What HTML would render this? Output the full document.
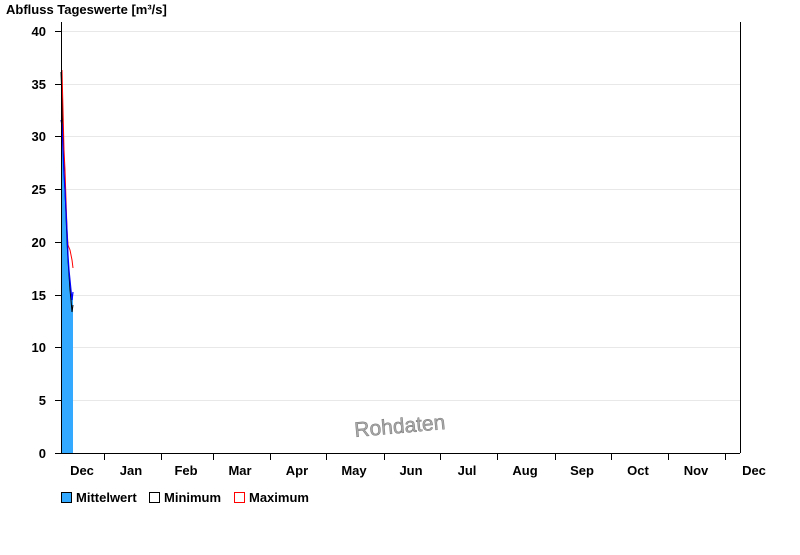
<!DOCTYPE html><html><head><style>body{margin:0;background:#fff}svg{font-family:"Liberation Sans",sans-serif;font-weight:bold;font-size:13px}</style></head><body>
<svg width="800" height="550" viewBox="0 0 800 550">
<rect width="800" height="550" fill="#fff"/>
<text x="6" y="14" font-size="13">Abfluss Tageswerte [m³/s]</text>
<g stroke="#e8e8e8" stroke-width="1">
<line x1="61" x2="740" y1="31.5" y2="31.5"/><line x1="61" x2="740" y1="84.5" y2="84.5"/><line x1="61" x2="740" y1="136.5" y2="136.5"/><line x1="61" x2="740" y1="189.5" y2="189.5"/><line x1="61" x2="740" y1="242.5" y2="242.5"/><line x1="61" x2="740" y1="295.5" y2="295.5"/><line x1="61" x2="740" y1="347.5" y2="347.5"/><line x1="61" x2="740" y1="400.5" y2="400.5"/>
</g>
<path d="M61,453 L61,120 L62,125 L63,150 L64,175 L65,190 L66,210 L67,230 L68,255 L69,270 L70,280 L71,290 L72,300 L73,292 L73,453 Z" fill="#33aaff"/>
<polyline points="61,72 62,100 63,140 64,170 65,190 66,215 67,240 68,260 69,275 70,290 71,300 72,312 73,305" fill="none" stroke="#000" stroke-width="1"/>
<polyline points="62,70 63,110 64,150 65,170 66,200 67,230 68,245 70,250 72,260 73,268" fill="none" stroke="#f00" stroke-width="1"/>
<polyline points="61,120 62,125 63,150 64,175 65,190 66,210 67,230 68,255 69,270 70,280 71,290 72,300 73,292" fill="none" stroke="#00f" stroke-width="1.2"/>
<g stroke="#000" stroke-width="1">
<line x1="61.5" y1="22" x2="61.5" y2="453"/><line x1="740.5" y1="22" x2="740.5" y2="453"/><line x1="55" y1="453.5" x2="740" y2="453.5"/>
<line x1="55" x2="61" y1="31.5" y2="31.5"/><line x1="55" x2="61" y1="84.5" y2="84.5"/><line x1="55" x2="61" y1="136.5" y2="136.5"/><line x1="55" x2="61" y1="189.5" y2="189.5"/><line x1="55" x2="61" y1="242.5" y2="242.5"/><line x1="55" x2="61" y1="295.5" y2="295.5"/><line x1="55" x2="61" y1="347.5" y2="347.5"/><line x1="55" x2="61" y1="400.5" y2="400.5"/>
<g>
<line x1="104.5" x2="104.5" y1="453" y2="460"/><line x1="161.5" x2="161.5" y1="453" y2="460"/><line x1="213.5" x2="213.5" y1="453" y2="460"/><line x1="270.5" x2="270.5" y1="453" y2="460"/><line x1="326.5" x2="326.5" y1="453" y2="460"/><line x1="384.5" x2="384.5" y1="453" y2="460"/><line x1="440.5" x2="440.5" y1="453" y2="460"/><line x1="497.5" x2="497.5" y1="453" y2="460"/><line x1="555.5" x2="555.5" y1="453" y2="460"/><line x1="611.5" x2="611.5" y1="453" y2="460"/><line x1="668.5" x2="668.5" y1="453" y2="460"/><line x1="725.5" x2="725.5" y1="453" y2="460"/>
</g></g>
<g text-anchor="end">
<text x="46" y="36">40</text><text x="46" y="89">35</text><text x="46" y="141">30</text><text x="46" y="194">25</text><text x="46" y="247">20</text><text x="46" y="300">15</text><text x="46" y="352">10</text><text x="46" y="405">5</text><text x="46" y="458">0</text>
</g>
<g text-anchor="middle">
<text x="82" y="475">Dec</text><text x="131" y="475">Jan</text><text x="186" y="475">Feb</text><text x="240" y="475">Mar</text><text x="297" y="475">Apr</text><text x="354" y="475">May</text><text x="411" y="475">Jun</text><text x="467" y="475">Jul</text><text x="525" y="475">Aug</text><text x="582" y="475">Sep</text><text x="638" y="475">Oct</text><text x="696" y="475">Nov</text><text x="754" y="475">Dec</text>
</g>
<text x="400" y="433" text-anchor="middle" font-weight="normal" font-size="21" fill="#aaa" stroke="#777" stroke-width="0.5" transform="rotate(-5 400 428)">Rohdaten</text>
<rect x="61.5" y="492.5" width="10" height="10" fill="#33aaff" stroke="#000"/><text x="76" y="502">Mittelwert</text>
<rect x="149.5" y="492.5" width="10" height="10" fill="#fff" stroke="#000"/><text x="164" y="502">Minimum</text>
<rect x="234.5" y="492.5" width="10" height="10" fill="#fff" stroke="#f00"/><text x="249" y="502">Maximum</text>
</svg></body></html>
